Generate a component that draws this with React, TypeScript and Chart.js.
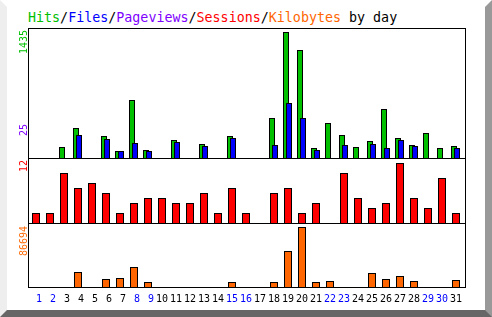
import React, { useEffect, useRef } from "react";
import { Chart, registerables } from "chart.js";

Chart.register(...registerables);

// ---------- data ----------
const days = [1, 2, 3, 4, 5, 6, 7, 8, 9, 10, 11, 12, 13, 14, 15, 16, 17, 18, 19, 20, 21, 22, 23, 24, 25, 26, 27, 28, 29, 30, 31];
const weekendDays = [1, 2, 8, 9, 15, 16, 22, 23, 29, 30];
const hits = [0, 0, 125, 342, 0, 251, 80, 660, 91, 0, 205, 0, 159, 0, 251, 0, 0, 456, 1435, 1230, 114, 399, 262, 125, 194, 558, 228, 148, 285, 114, 137];
const files = [0, 0, 0, 262, 0, 216, 80, 171, 80, 0, 182, 0, 137, 0, 228, 0, 0, 148, 626, 456, 91, 0, 148, 0, 159, 114, 205, 137, 0, 0, 114];
const sessions = [2, 2, 10, 7, 8, 6, 2, 4, 5, 5, 4, 4, 6, 2, 7, 2, 0, 6, 7, 2, 4, 0, 10, 5, 3, 4, 12, 5, 3, 9, 2];
const kbytes = [0, 0, 0, 21674, 0, 11559, 13004, 28898, 7224, 0, 0, 0, 0, 0, 7224, 0, 0, 7224, 52016, 86694, 7224, 8669, 0, 0, 20229, 11559, 15894, 8669, 0, 0, 10114];
const hitsMaxLabel = "1435";
const pagesMaxLabel = "25";
const sessionsMaxLabel = "12";
const kbytesMaxLabel = "86694";

// ---------- styling ----------
const C_HITS = "#00c000";
const C_FILES = "#0000ff";
const C_PAGES = "#8000ff";
const C_SESS = "#ff0000";
const C_KB = "#ff6600";
const MONO = '"DejaVu Sans Mono", "Liberation Mono", monospace';

const PLOT_LEFT = 28;
const PLOT_W = 438;
const COL = 14;
const SIDE = 10;

function xAxis(centerOffset: number, show: boolean) {
  const min = 1 - centerOffset / COL;
  return {
    type: "linear",
    min,
    max: min + PLOT_W / COL,
    offset: false,
    display: show,
    grid: { display: false, drawTicks: false },
    border: { display: false },
    afterBuildTicks: (scale: any) => {
      scale.ticks = days.map((d) => ({ value: d }));
    },
    ticks: {
      autoSkip: false,
      maxRotation: 0,
      minRotation: 0,
      padding: 6,
      font: { family: MONO, size: 10, lineHeight: 1.2 },
      color: (c: any) => (weekendDays.includes(c.tick && c.tick.value) ? "#0000ff" : "#000000"),
      callback: (v: any) => String(v).padStart(2, " "),
    },
  };
}

function series(values: number[], color: string, axis: string, thickness: number, order: number) {
  return {
    data: days.map((d, i) => ({ x: d, y: values[i] })),
    xAxisID: axis,
    backgroundColor: color,
    borderColor: "#000000",
    borderWidth: 1,
    borderSkipped: "start",
    barThickness: thickness,
    grouped: false,
    inflateAmount: 0,
    order,
  };
}

type PanelProps = {
  top: number;
  height: number;
  yMax: number;
  datasets: any[];
  scales: any;
};

function Panel({ top, height, yMax, datasets, scales }: PanelProps) {
  const ref = useRef<HTMLCanvasElement>(null);
  useEffect(() => {
    const chart = new Chart(ref.current as HTMLCanvasElement, {
      type: "bar",
      data: { datasets },
      options: {
        responsive: false,
        animation: false,
        devicePixelRatio: 1,
        events: [],
        layout: { padding: { left: SIDE, right: SIDE, top: 0, bottom: 0 } },
        plugins: { legend: { display: false }, tooltip: { enabled: false } },
        scales: {
          ...scales,
          y: { type: "linear", display: false, min: 0, max: yMax },
        },
      } as any,
    } as any);
    return () => chart.destroy();
  }, []);
  const w = PLOT_W + SIDE * 2;
  return (
    <canvas
      ref={ref}
      width={w}
      height={height}
      style={{ position: "absolute", left: PLOT_LEFT - SIDE, top, width: w, height }}
    />
  );
}

function VLabel({ text, color, bottom }: { text: string; color: string; bottom: number }) {
  return (
    <div
      style={{
        position: "absolute",
        left: 19,
        top: bottom,
        font: `10px ${MONO}`,
        lineHeight: "10px",
        color,
        whiteSpace: "nowrap",
        transform: "rotate(-90deg)",
        transformOrigin: "0 0",
      }}
    >
      {text}
    </div>
  );
}

export default function App() {
  return (
    <div
      style={{
        position: "absolute",
        left: 0,
        top: 0,
        width: 492,
        height: 317,
        boxSizing: "border-box",
        borderStyle: "solid",
        borderWidth: 7,
        borderColor: "#ffffff #999999 #666666 #eeeeee",
        background: "#ffffff",
      }}
    >
      <div style={{ position: "absolute", left: -7, top: -7, width: 492, height: 317 }}>
        <div
          style={{
            position: "absolute",
            left: 28,
            top: 10,
            font: `13.33px ${MONO}`,
            lineHeight: "16px",
            whiteSpace: "pre",
            color: "#000",
          }}
        >
          <span style={{ color: C_HITS }}>Hits</span>/<span style={{ color: C_FILES }}>Files</span>/
          <span style={{ color: C_PAGES }}>Pageviews</span>/<span style={{ color: C_SESS }}>Sessions</span>/
          <span style={{ color: C_KB }}>Kilobytes</span> by day
        </div>

        <Panel
          top={29}
          height={129}
          yMax={1435 * 129 / 126}
          scales={{ xg: xAxis(6, false), xb: xAxis(9, false) }}
          datasets={[series(hits, C_HITS, "xg", 6, 2), series(files, C_FILES, "xb", 6, 1)]}
        />
        <Panel
          top={159}
          height={64}
          yMax={12.8}
          scales={{ x: xAxis(8, false) }}
          datasets={[series(sessions, C_SESS, "x", 8, 1)]}
        />
        <Panel
          top={224}
          height={87}
          yMax={86694 * 63 / 60}
          scales={{ x: xAxis(8, true) }}
          datasets={[series(kbytes, C_KB, "x", 8, 1)]}
        />

        <div
          style={{
            position: "absolute",
            left: 28,
            top: 28,
            width: 438,
            height: 260,
            boxSizing: "border-box",
            border: "1px solid #000",
            pointerEvents: "none",
          }}
        />
        <div style={{ position: "absolute", left: 28, top: 158, width: 438, height: 1, background: "#000" }} />
        <div style={{ position: "absolute", left: 28, top: 223, width: 438, height: 1, background: "#000" }} />

        <VLabel text={hitsMaxLabel} color={C_HITS} bottom={54} />
        <VLabel text={pagesMaxLabel} color={C_PAGES} bottom={136} />
        <VLabel text={sessionsMaxLabel} color={C_SESS} bottom={172} />
        <VLabel text={kbytesMaxLabel} color={C_KB} bottom={256} />
      </div>
    </div>
  );
}
